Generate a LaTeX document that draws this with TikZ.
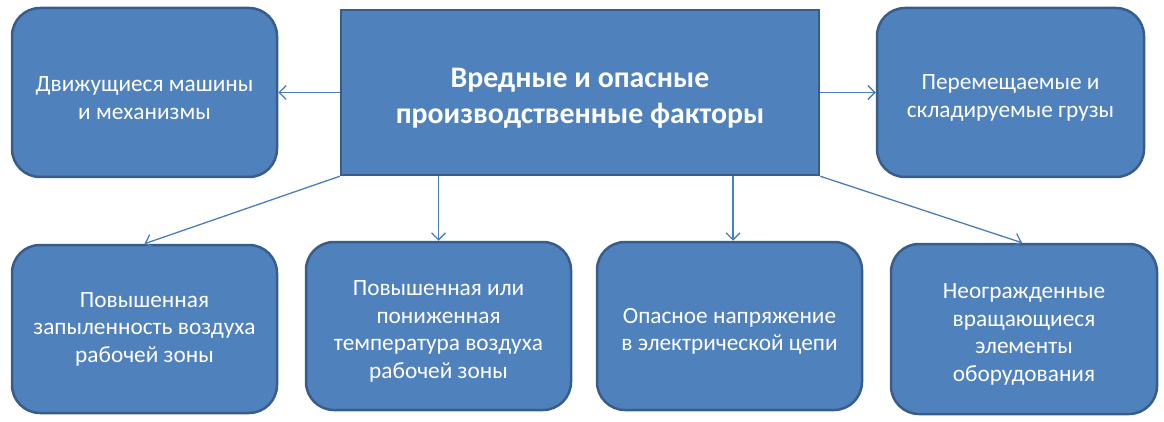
\documentclass[tikz,border=0pt]{standalone}
\usepackage{fontspec}
\setmainfont{Carlito}
\usetikzlibrary{arrows.meta}
\definecolor{boxfill}{HTML}{4F81BD}
\definecolor{boxdraw}{HTML}{385D8A}
\definecolor{arrowc}{HTML}{4A7EBB}
\newcommand\lowsm{\rule{0pt}{26pt}}
\newcommand\lowbig{\rule{0pt}{31pt}}
\begin{document}
\begin{tikzpicture}[x=1pt,y=-1pt,
  factor/.style={draw=boxdraw, line width=2.5pt, fill=boxfill, rounded corners=28pt,
    text=white, align=center, inner sep=0pt,
    font=\fontsize{23.3}{27.5}\selectfont},
  mainbox/.style={draw=boxdraw, line width=2.5pt, fill=boxfill,
    text=white, align=center, inner sep=0pt,
    font=\fontsize{29.8}{36}\selectfont\bfseries},
  link/.style={draw=arrowc, line width=1.3pt, -{Straight Barb[length=7pt,width=14pt]}}]
\useasboundingbox (0,0) rectangle (1164,422);
\node[mainbox, minimum width=478pt, minimum height=165pt] (c) at (580,92.5)
  {\lowbig Вредные и опасные\\производственные факторы};
\node[factor, minimum width=265pt, minimum height=169pt] (tl) at (144.5,92.5)
  {\lowsm Движущиеся машины\\и механизмы};
\node[factor, minimum width=267pt, minimum height=169pt] (tr) at (1010.5,92.5)
  {\lowsm Перемещаемые и\\складируемые грузы};
\node[factor, minimum width=265pt, minimum height=168pt] (b1) at (144.5,329)
  {Повышенная\\запыленность воздуха\\рабочей зоны};
\node[factor, minimum width=265pt, minimum height=168pt] (b2) at (438.5,326)
  {\lowsm Повышенная или\\пониженная\\температура воздуха\\рабочей зоны};
\node[factor, minimum width=265pt, minimum height=168pt] (b3) at (729.5,326)
  {\lowsm Опасное напряжение\\в электрической цепи};
\node[factor, minimum width=266pt, minimum height=170pt] (b4) at (1024,329)
  {\lowsm Неогражденные\\вращающиеся\\элементы\\оборудования};
\draw[link] (c.west) -- (tl.east);
\draw[link] (c.east) -- (tr.west);
\draw[link] (c.south west) -- (b1.north);
\draw[link] (b2.north |- c.south) -- (b2.north);
\draw[link] ([xshift=3.5pt]b3.north |- c.south) -- ([xshift=3.5pt]b3.north);
\draw[link] (c.south east) -- ([xshift=-2pt]b4.north);
\end{tikzpicture}
\end{document}
